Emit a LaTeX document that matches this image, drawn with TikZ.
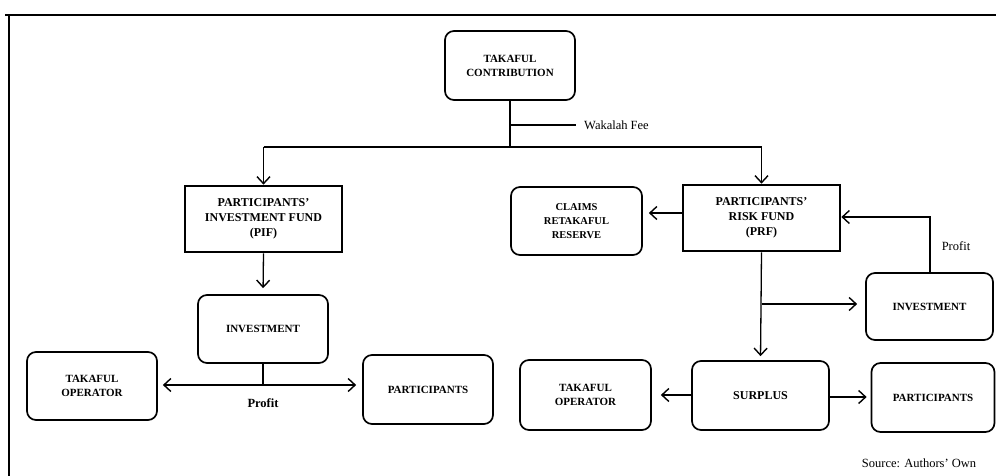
\documentclass[tikz,border=0pt]{standalone}
\usepackage{fontspec}
\setmainfont{Liberation Serif}
\usetikzlibrary{arrows.meta}
\begin{document}
\begin{tikzpicture}[x=1pt,y=-1pt,
  rbox/.style={draw, line width=1.7pt, rounded corners=9pt, inner sep=0pt, align=center, font=\fontsize{11}{14}\selectfont\bfseries},
  fund/.style={draw, line width=2.7pt, inner sep=0pt, align=center, font=\fontsize{12}{15}\selectfont\bfseries},
  conn/.style={line width=1.3pt},
  arr/.style={conn, -{Straight Barb[length=7pt,width=13pt,line width=1.4pt]}},
  lbl/.style={font=\fontsize{12.5}{14}\selectfont, inner sep=0pt},
]
\useasboundingbox (0,0) rectangle (996,476);
% frame
\draw[line width=2pt] (5,15) -- (996,15);
\draw[line width=2pt] (9,15) -- (9,476);

% boxes
\node[rbox, minimum width=130pt, minimum height=69pt] (tc) at (510,65.5) {TAKAFUL\\CONTRIBUTION};
\node[fund, minimum width=157pt, minimum height=66pt] (pif) at (263.5,219) {PARTICIPANTS'\\INVESTMENT FUND\\(PIF)};
\node[fund, minimum width=157pt, minimum height=66pt] (prf) at (761.5,218) {PARTICIPANTS'\\RISK FUND\\(PRF)};
\node[rbox, minimum width=131pt, minimum height=68pt, font=\fontsize{10.5}{14}\selectfont\bfseries] (crr) at (576.5,221) {CLAIMS\\RETAKAFUL\\RESERVE};
\node[rbox, minimum width=130pt, minimum height=68pt] (inv1) at (263,329) {INVESTMENT};
\node[rbox, minimum width=130pt, minimum height=68pt] (to1) at (92,386) {TAKAFUL\\OPERATOR};
\node[rbox, minimum width=130pt, minimum height=69pt] (par1) at (428,389.5) {PARTICIPANTS};
\node[rbox, minimum width=127pt, minimum height=67pt] (inv2) at (929.5,306.5) {INVESTMENT};
\node[rbox, minimum width=137pt, minimum height=69pt, font=\fontsize{12}{14}\selectfont\bfseries] (sur) at (760.5,395.5) {SURPLUS};
\node[rbox, minimum width=131pt, minimum height=70pt] (to2) at (585.5,395) {TAKAFUL\\OPERATOR};
\node[rbox, minimum width=123pt, minimum height=69pt] (par2) at (933,397.5) {PARTICIPANTS};

% labels
\node[lbl, anchor=west] (wf) at (584,125) {Wakalah Fee};
\node[lbl, font=\fontsize{12.5}{14}\selectfont\bfseries] (pr1) at (263,403) {Profit};
\node[lbl] (pr2) at (956,246) {Profit};
\node[lbl] (src) at (919,463) {Source: Authors' Own};

% top split
\coordinate (j) at (510,147);
\coordinate (jl) at (263.5,147);
\coordinate (jr) at (761.5,147);
\coordinate (wk) at (510,125);
\draw[conn] (tc.south) -- (j);
\draw[conn] (wk) -- ([xshift=-8pt]wf.west);
\draw[conn] (jl) -- (jr);
\draw[arr] (jl) -- (pif.north);
\draw[arr] (jr) -- (prf.north);

% left side
\draw[arr, shorten >=6pt] (pif.south) -- (inv1.north);
\coordinate (p1) at (263,385);
\draw[conn] (inv1.south) -- (p1);
\draw[arr, shorten >=5pt] (p1) -- (p1 -| to1.east);
\draw[arr, shorten >=6pt] (p1) -- (p1 -| par1.west);

% right side
\coordinate (c1) at (683,213);
\draw[arr, shorten >=6pt] (c1) -- (c1 -| crr.east);
\coordinate (f1) at (930,217);
\draw[arr] (inv2.north -| f1) -- (f1) -- (f1 -| prf.east);
\coordinate (b1) at (761.5,304);
\draw[arr, shorten >=4pt] (prf.south) -- (sur.north);
\draw[arr, shorten >=8pt] (b1) -- (b1 -| inv2.west);
\coordinate (s1) at (692,395);
\draw[arr, shorten >=9pt] (s1) -- (s1 -| to2.east);
\coordinate (s2) at (829,397);
\draw[arr, shorten >=4pt] (s2) -- (s2 -| par2.west);
\end{tikzpicture}
\end{document}
